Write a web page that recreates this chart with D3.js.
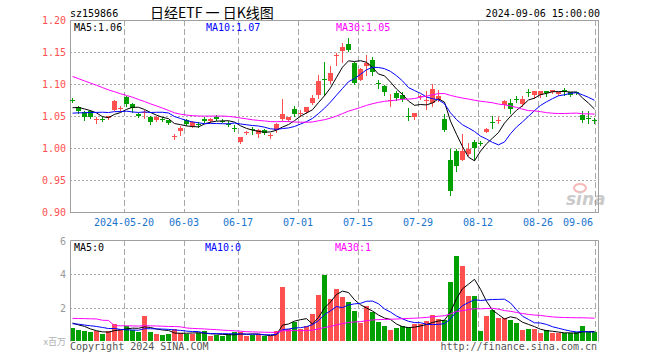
<!DOCTYPE html>
<html><head><meta charset="utf-8">
<script src="https://cdn.jsdelivr.net/npm/d3@7"></script>
<style>body{margin:0;background:#fff}svg{display:block}</style>
</head><body><svg id="c" width="660" height="360"></svg>
<script>
// ---- data ----
const dates = [
"2024-05-07","2024-05-08","2024-05-09","2024-05-10","2024-05-13","2024-05-14","2024-05-15","2024-05-16","2024-05-17","2024-05-20",
"2024-05-21","2024-05-22","2024-05-23","2024-05-24","2024-05-27","2024-05-28","2024-05-29","2024-05-30","2024-05-31","2024-06-03",
"2024-06-04","2024-06-05","2024-06-06","2024-06-07","2024-06-11","2024-06-12","2024-06-13","2024-06-14","2024-06-17","2024-06-18",
"2024-06-19","2024-06-20","2024-06-21","2024-06-24","2024-06-25","2024-06-26","2024-06-27","2024-06-28","2024-07-01","2024-07-02",
"2024-07-03","2024-07-04","2024-07-05","2024-07-08","2024-07-09","2024-07-10","2024-07-11","2024-07-12","2024-07-15","2024-07-16",
"2024-07-17","2024-07-18","2024-07-19","2024-07-22","2024-07-23","2024-07-24","2024-07-25","2024-07-26","2024-07-29","2024-07-30",
"2024-07-31","2024-08-01","2024-08-02","2024-08-05","2024-08-06","2024-08-07","2024-08-08","2024-08-09","2024-08-12","2024-08-13",
"2024-08-14","2024-08-15","2024-08-16","2024-08-19","2024-08-20","2024-08-21","2024-08-22","2024-08-23","2024-08-26","2024-08-27",
"2024-08-28","2024-08-29","2024-08-30","2024-09-02","2024-09-03","2024-09-04","2024-09-05","2024-09-06"];

const openP = [1.0750,1.0635,1.0568,1.0573,1.0445,1.0452,1.0464,1.0599,1.0627,1.0792,
1.0690,1.0530,1.0565,1.0484,1.0430,1.0456,1.0430,1.0180,1.0258,1.0430,
1.0350,1.0368,1.0458,1.0420,1.0490,1.0425,1.0382,1.0310,1.0099,1.0248,
1.0290,1.0224,1.0276,1.0198,1.0276,1.0458,1.0432,1.0615,1.0545,1.0563,
1.0703,1.0823,1.1072,1.1042,1.1444,1.1510,1.1630,1.1333,1.1068,1.1280,
1.1380,1.1020,1.0974,1.0740,1.0860,1.0833,1.0497,1.0484,1.0790,1.0743,
1.0703,1.0745,1.0458,0.9818,0.9958,0.9818,0.9911,1.0094,1.0080,1.0255,
1.0402,1.0425,1.0677,1.0703,1.0768,1.0693,1.0872,1.0828,1.0828,1.0885,
1.0870,1.0850,1.0902,1.0870,1.0872,1.0520,1.0476,1.0434];
const highP = [1.0776,1.0660,1.0580,1.0600,1.0490,1.0480,1.0505,1.0755,1.0660,1.0820,
1.0710,1.0540,1.0600,1.0505,1.0500,1.0485,1.0445,1.0220,1.0350,1.0450,
1.0420,1.0400,1.0480,1.0465,1.0515,1.0450,1.0420,1.0360,1.0175,1.0260,
1.0325,1.0290,1.0300,1.0236,1.0385,1.0770,1.0490,1.0650,1.0600,1.0640,
1.0830,1.1146,1.1344,1.1276,1.1484,1.1640,1.1720,1.1340,1.1250,1.1460,
1.1420,1.1060,1.0990,1.0850,1.0890,1.0870,1.0625,1.0550,1.0830,1.0885,
1.0995,1.0910,1.0536,0.9984,0.9984,1.0224,1.0078,1.0130,1.0115,1.0310,
1.0495,1.0480,1.0755,1.0766,1.0810,1.0810,1.0920,1.0885,1.0890,1.0895,
1.0900,1.0880,1.0935,1.0880,1.0880,1.0572,1.0572,1.0470];
const lowP = [1.0714,1.0540,1.0440,1.0470,1.0390,1.0420,1.0455,1.0590,1.0575,1.0660,
1.0560,1.0485,1.0470,1.0370,1.0415,1.0425,1.0370,1.0140,1.0210,1.0360,
1.0330,1.0330,1.0400,1.0410,1.0440,1.0400,1.0340,1.0260,1.0080,1.0225,
1.0220,1.0170,1.0220,1.0160,1.0245,1.0445,1.0420,1.0495,1.0495,1.0550,
1.0680,1.0780,1.0833,1.1020,1.1300,1.1340,1.1510,1.1000,1.1060,1.1140,
1.1146,1.0940,1.0830,1.0660,1.0750,1.0740,1.0440,1.0460,1.0760,1.0610,
1.0650,1.0730,1.0270,0.9260,0.9635,0.9810,0.9890,0.9818,1.0040,1.0245,
1.0307,1.0390,1.0630,1.0547,1.0720,1.0660,1.0820,1.0780,1.0800,1.0820,
1.0860,1.0830,1.0835,1.0820,1.0840,1.0400,1.0390,1.0390];
const closeP = [1.0745,1.0573,1.0484,1.0490,1.0450,1.0448,1.0500,1.0740,1.0632,1.0693,
1.0620,1.0495,1.0570,1.0401,1.0480,1.0452,1.0390,1.0185,1.0320,1.0380,
1.0400,1.0365,1.0417,1.0460,1.0455,1.0420,1.0380,1.0307,1.0172,1.0252,
1.0286,1.0286,1.0234,1.0202,1.0380,1.0536,1.0480,1.0536,1.0550,1.0635,
1.0786,1.1042,1.1068,1.1172,1.1450,1.1583,1.1536,1.1016,1.1234,1.1330,
1.1180,1.1016,1.0880,1.0745,1.0780,1.0766,1.0495,1.0547,1.0810,1.0747,
1.0922,1.0818,1.0286,0.9323,0.9724,0.9958,0.9990,1.0005,1.0078,1.0297,
1.0400,1.0430,1.0740,1.0610,1.0766,1.0766,1.0870,1.0885,1.0885,1.0860,
1.0900,1.0875,1.0900,1.0833,1.0870,1.0432,1.0474,1.0432];
// volume, millions of shares
const volume = [0.75,0.65,0.57,0.53,0.57,0.41,0.57,1.03,0.73,0.87,
0.63,0.53,1.47,0.53,0.43,0.33,0.39,0.69,0.47,0.43,
0.41,0.47,0.57,0.27,0.37,0.29,0.39,0.53,0.53,0.27,
0.37,0.39,0.27,0.29,0.57,3.21,0.73,1.13,0.73,0.87,
1.60,2.73,3.93,2.53,3.09,2.61,2.31,1.77,1.05,2.11,
1.71,1.11,0.87,0.63,0.75,0.91,0.85,0.99,0.99,1.17,
1.53,1.29,1.23,3.53,5.07,4.47,2.67,2.67,0.57,1.47,
1.83,1.35,1.35,1.23,1.05,0.63,0.69,0.69,0.45,0.63,
0.45,0.45,0.45,0.45,0.51,0.87,0.51,0.51];
// sessions before the window (only feed the moving averages, estimated from the MA lines)
const leadClose = [1.160,1.155,1.150,1.148,1.152,1.158,1.162,1.156,1.150,1.146,
1.152,1.155,1.149,1.145,1.150,1.143,1.135,1.095,1.080,1.068,
1.052,1.048,1.043,1.045,1.042,1.055,1.060,1.062,1.063];
const leadVolume = [0.9,0.8,0.85,0.8,2.8,0.9,10.5,0.9,0.8,0.85,
0.8,0.8,0.75,0.8,0.7,0.8,0.8,1.0,2.5,1.2,
0.9,1.1,0.95,1.0,1.0,1.2,1.0,1.3,1.1];

const priceTicks = [1.20,1.15,1.10,1.05,1.00,0.95,0.90];
const volTicks = [6,4,2];
const tickDates = ["2024-05-20","2024-06-03","2024-06-17","2024-07-01","2024-07-15","2024-07-29","2024-08-12","2024-08-26","2024-09-06"];
const tickLabels = ["2024-05-20","06-03","06-17","07-01","07-15","07-29","08-12","08-26","09-06"];
const maPeriods = [5,10,30];
const maColors = ["#000000","#0000ff","#ff00ff"];

// ---- drawing ----
const RED = "#ff5050", GREEN = "#00a000", GRID = "#a8a8a8", FRAME = "#a0a0a0";
const MONO = "'DejaVu Sans Mono', monospace";
const svg = d3.select("#c");
const L = 70, R = 598, PT = 20, PB = 212, VT = 240, VB = 341;

const x = d3.scaleBand().domain(dates).range([L, R]).padding(0);
const bw = x.bandwidth();
const y = d3.scaleLinear().domain([0.90, 1.20]).range([PB, PT]);
const yv = d3.scaleLinear().domain([0, 6]).range([VB, VT + 0.5]);

function movingAvg(series, lead, n) {
  const all = lead.concat(series), off = lead.length;
  return series.map((_, i) => d3.mean(all.slice(off + i - n + 1, off + i + 1)));
}
const priceMA = maPeriods.map(n => movingAvg(closeP, leadClose, n));
const volMA = maPeriods.map(n => movingAvg(volume, leadVolume, n));
const rows = dates.map((d, i) => ({d, o: openP[i], h: highP[i], l: lowP[i], c: closeP[i], v: volume[i]}));
const colorOf = r => r.c >= r.o ? RED : GREEN;
const px = v => Math.round(v) + 0.5;
const gridX = (d, i) => i === tickDates.length - 1 ? x(d) + bw / 2 + 0.5 : x(d) + 0.5;

// header
svg.append("text").attr("x", 70).attr("y", 17).attr("font-family", MONO).attr("font-size", 10).text("sz159866");
svg.append("text").attr("x", 150).attr("y", 18).attr("font-family", "'Noto Sans CJK SC', sans-serif").attr("font-size", 14).text("日经ETF 一 日K线图");
svg.append("text").attr("x", 600).attr("y", 17).attr("text-anchor", "end").attr("font-family", MONO).attr("font-size", 10).text("2024-09-06 15:00:00");

// ---- price panel ----
const gp = svg.append("g");
gp.selectAll("line.hg").data(priceTicks.slice(1, -1)).join("line")
  .attr("x1", L).attr("x2", R).attr("y1", d => px(y(d))).attr("y2", d => px(y(d)))
  .attr("stroke", GRID).attr("stroke-dasharray", "2,2");
gp.selectAll("line.vg").data(tickDates).join("line")
  .attr("x1", gridX).attr("x2", gridX).attr("y1", PT).attr("y2", PB)
  .attr("stroke", GRID).attr("stroke-dasharray", "6,3");
gp.append("rect").attr("x", L + 0.5).attr("y", PT + 0.5).attr("width", R - L).attr("height", PB - PT)
  .attr("fill", "none").attr("stroke", FRAME);
svg.selectAll("text.pt").data(priceTicks).join("text")
  .attr("x", 66).attr("y", d => y(d) + 4).attr("text-anchor", "end")
  .attr("font-family", MONO).attr("font-size", 10)
  .attr("fill", RED).text(d => d.toFixed(2));
svg.selectAll("text.xt").data(tickDates).join("text")
  .attr("x", (d, i) => i === tickDates.length - 1 ? 578 : x(d))
  .attr("y", 226).attr("text-anchor", "middle")
  .attr("font-family", MONO).attr("font-size", 10).attr("fill", "#1874cd")
  .text((d, i) => tickLabels[i]);

// watermark
const wm = svg.append("g").attr("opacity", 0.55);
wm.append("ellipse").attr("cx", 580).attr("cy", 188).attr("rx", 6).attr("ry", 4).attr("fill", "none").attr("stroke", "#f08080").attr("stroke-width", 2);
wm.append("text").attr("x", 566).attr("y", 205).attr("font-family", "'DejaVu Sans', sans-serif").attr("font-weight", "bold").attr("font-style", "italic").attr("font-size", 17).attr("fill", "#a0a0a0").text("sina");

// candles
const cg = gp.append("g");
cg.selectAll("line.wick").data(rows).join("line")
  .attr("x1", r => x(r.d) + 2.5).attr("x2", r => x(r.d) + 2.5)
  .attr("y1", r => Math.round(y(r.h))).attr("y2", r => Math.round(y(r.l)) + 1)
  .attr("stroke", colorOf);
cg.selectAll("rect.body").data(rows).join("rect")
  .attr("x", r => x(r.d)).attr("width", bw - 1)
  .attr("y", r => Math.round(y(Math.max(r.o, r.c))))
  .attr("height", r => Math.max(1, Math.round(y(Math.min(r.o, r.c))) - Math.round(y(Math.max(r.o, r.c)))))
  .attr("fill", colorOf);

const lineP = d3.line().x((v, i) => x(dates[i]) + 2.5).y(v => y(v));
priceMA.forEach((m, k) => gp.append("path").attr("d", lineP(m)).attr("fill", "none").attr("stroke", maColors[k]).attr("stroke-width", 1));

const legX = [74, 206, 336];
maPeriods.forEach((n, k) => svg.append("text").attr("x", legX[k]).attr("y", 31).attr("font-family", MONO).attr("font-size", 10)
  .attr("fill", maColors[k]).text(`MA${n}:${priceMA[k][priceMA[k].length - 1].toFixed(2)}`));

// ---- volume panel ----
const gv = svg.append("g");
gv.selectAll("line.hg").data([4, 2]).join("line")
  .attr("x1", L).attr("x2", R).attr("y1", d => px(yv(d))).attr("y2", d => px(yv(d)))
  .attr("stroke", GRID).attr("stroke-dasharray", "2,2");
gv.selectAll("line.vg").data(tickDates).join("line")
  .attr("x1", gridX).attr("x2", gridX).attr("y1", VT).attr("y2", VB)
  .attr("stroke", GRID).attr("stroke-dasharray", "6,3");
gv.selectAll("rect.vol").data(rows).join("rect")
  .attr("x", r => x(r.d)).attr("width", bw - 1)
  .attr("y", r => Math.round(yv(r.v))).attr("height", r => VB - Math.round(yv(r.v)))
  .attr("fill", colorOf);
const lineV = d3.line().x((v, i) => x(dates[i]) + 2.5).y(v => yv(v));
volMA.forEach((m, k) => gv.append("path").attr("d", lineV(m)).attr("fill", "none").attr("stroke", maColors[k]).attr("stroke-width", 1));
gv.append("path").attr("d", `M${L + 0.5},${VB + 0.5}V${VT + 0.5}H${R + 0.5}V${VB + 0.5}`)
  .attr("fill", "none").attr("stroke", FRAME);
svg.selectAll("text.vt").data(volTicks).join("text")
  .attr("x", 66).attr("y", d => yv(d) + 4).attr("text-anchor", "end")
  .attr("font-family", MONO).attr("font-size", 10).attr("fill", "#999").text(d => d);
const legVX = [74, 205, 335];
maPeriods.forEach((n, k) => svg.append("text").attr("x", legVX[k]).attr("y", 251).attr("font-family", MONO).attr("font-size", 10)
  .attr("fill", maColors[k]).text(`MA${n}:${Math.floor(volMA[k][volMA[k].length - 1])}`));
svg.append("text").attr("x", 66).attr("y", 345).attr("text-anchor", "end").attr("font-family", "'Noto Sans CJK SC', sans-serif")
  .attr("font-size", 9).attr("fill", "#b0b0b0").text("x百万");

// footer
svg.append("text").attr("x", 70).attr("y", 350).attr("font-family", MONO).attr("font-size", 10).attr("fill", "#555").text("Copyright 2024 SINA.COM");
svg.append("text").attr("x", 597).attr("y", 350).attr("text-anchor", "end").attr("font-family", MONO).attr("font-size", 10).attr("fill", "#555").text("http://finance.sina.com.cn");
</script></body></html>
